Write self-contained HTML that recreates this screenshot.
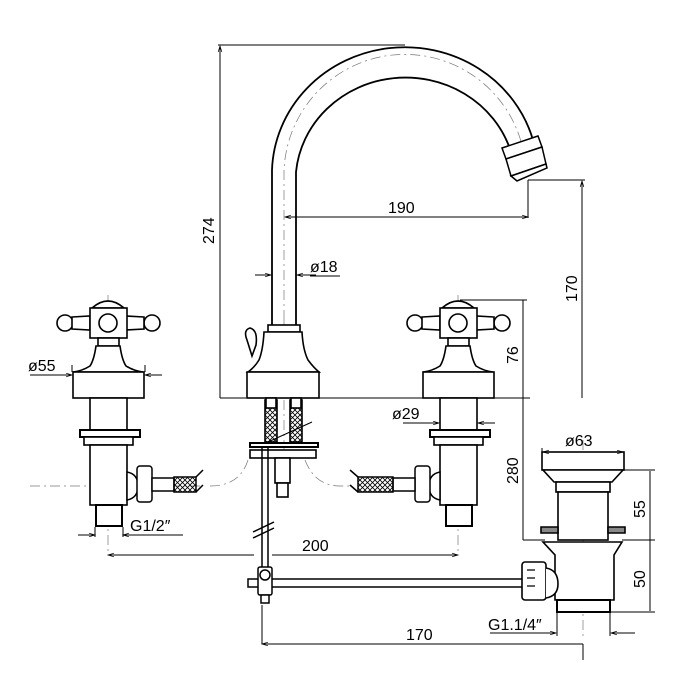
<!DOCTYPE html>
<html><head><meta charset="utf-8"><style>
html,body{margin:0;padding:0;background:#fff;}
svg{display:block;}
text{font-family:"Liberation Sans",sans-serif;font-size:16px;fill:#000;}
</style></head><body>
<svg width="700" height="700" viewBox="0 0 700 700" xmlns="http://www.w3.org/2000/svg">
<defs>
<pattern id="h" width="5" height="5" patternUnits="userSpaceOnUse">
<path d="M0 0L5 5M5 0L0 5" stroke="#000" stroke-width="0.8"/>
</pattern>
<marker id="a" viewBox="0 0 10 10" refX="10" refY="5" markerWidth="10" markerHeight="6" orient="auto-start-reverse" markerUnits="userSpaceOnUse">
<path d="M0 2L10 5L0 8" fill="none" stroke="#000" stroke-width="1.2"/>
</marker>
<g id="tap" fill="#fff" stroke="#000" stroke-width="1.6">
<circle cx="-43" cy="323" r="8"/>
<circle cx="44" cy="323" r="8"/>
<path d="M-36 317 L-18 316 L-18 330 L-36 329Z"/>
<path d="M36 317 L18 316 L18 330 L36 329Z"/>
<path d="M-16 308 Q0 294 16 308Z"/>
<rect x="-18" y="308" width="37" height="30"/>
<circle cx="0" cy="323" r="9"/>
<rect x="-10" y="338" width="21" height="8"/>
<path d="M-12 346 L12 346 Q14 360 18 366 Q26 371 35 372 L-35 372 Q-26 371 -18 366 Q-14 360 -12 346Z"/>
<rect x="-35" y="372" width="71" height="26"/>
<rect x="-18" y="398" width="37" height="32"/>
<rect x="-28" y="430" width="60" height="7" stroke-width="2"/>
<rect x="-24" y="437" width="49" height="8"/>
<rect x="-18" y="445" width="37" height="60"/>
<rect x="-12" y="505" width="26" height="21" stroke-width="2"/>
</g>
</defs>

<g stroke="#777" stroke-width="0.7" stroke-dasharray="10 4 2 4" fill="none">
<line x1="108" y1="295" x2="108" y2="555"/>
<line x1="458" y1="295" x2="458" y2="555"/>
<line x1="583" y1="440" x2="583" y2="640"/>
<line x1="284" y1="320" x2="284" y2="500"/>
<path d="M284 320 L284 170 A121 121 0 0 1 522 145"/>
<path d="M30 486 L200 486 M210 486 Q240 486 248 460 M305 460 Q315 486 340 486 L350 486"/>
</g>

<g fill="none" stroke="#000" stroke-width="1.8">
<path d="M272 325 L272 170 A133 127 0 0 1 533 140"/>
<path d="M296 325 L296 172 A110 104 0 0 1 510 149"/>
</g>
<g fill="#fff" stroke="#000" stroke-width="1.5">
<path d="M502 148 L538 136 L542 147 L506 159Z"/>
<path d="M506 159 L542 147 L546 164 L511 176Z"/>
<path d="M511 176 L546 164 L547 168 L517 181Z"/>
</g>

<g fill="#fff" stroke="#000" stroke-width="1.6">
<rect x="268" y="325" width="32" height="7"/>
<path d="M264 332 L302 332 Q303 350 308 360 Q314 368 319 372 L248 372 Q254 368 259 360 Q263 350 264 332Z"/>
<path d="M247 340 Q243 330 250 328 Q258 330 256 345 L252 356 Z"/>
<rect x="247" y="372" width="72" height="26"/>
<rect x="265" y="400" width="12" height="42" fill="url(#h)"/>
<rect x="290" y="400" width="12" height="42" fill="url(#h)"/>
<rect x="266" y="398" width="10" height="10"/>
<rect x="291" y="398" width="10" height="10"/>
<rect x="250" y="443" width="68" height="4" stroke-width="2"/>
<rect x="250" y="450" width="66" height="8"/>
<rect x="275" y="458" width="15" height="25"/>
<rect x="277" y="483" width="11" height="14"/>
</g>
<line x1="268" y1="442" x2="312" y2="422" stroke="#000" stroke-width="1"/>

<g stroke="#000" stroke-width="1.5" fill="none">
<line x1="262" y1="448" x2="262" y2="568"/>
<line x1="268" y1="448" x2="268" y2="568"/>
<line x1="253" y1="532" x2="274" y2="522"/>
<line x1="253" y1="538" x2="274" y2="528"/>
</g>
<g fill="#fff" stroke="#000" stroke-width="1.5">
<rect x="248" y="579" width="278" height="8"/>
<rect x="258" y="567" width="14" height="28" rx="2"/>
<circle cx="265" cy="575" r="5"/>
<rect x="261" y="595" width="8" height="8"/>
</g>

<use href="#tap" x="108"/>
<use href="#tap" x="458"/>

<g fill="#fff" stroke="#000" stroke-width="1.5">
<path d="M127 472 Q138 474 138 486 Q138 498 127 500Z"/>
<rect x="137" y="466" width="15" height="36" rx="3"/>
<rect x="152" y="478" width="22" height="13"/>
<rect x="174" y="477" width="22" height="15" fill="url(#h)"/>
<path d="M196 477 L203 470 M196 492 L203 485"/>
<path d="M440 472 Q429 474 429 486 Q429 498 440 500Z"/>
<rect x="415" y="466" width="15" height="36" rx="3"/>
<rect x="393" y="478" width="22" height="13"/>
<rect x="358" y="477" width="35" height="15" fill="url(#h)"/>
<path d="M358 477 L350 470 M358 492 L350 485"/>
</g>

<g fill="#fff" stroke="#000" stroke-width="1.6">
<rect x="542" y="452" width="82" height="18"/>
<path d="M543 470 L623 470 L612 482 L554 482Z"/>
<rect x="556" y="482" width="54" height="10"/>
<rect x="558" y="492" width="50" height="48"/>
<path d="M541 527 L558 527 L558 533 L541 533Z" fill="#888"/>
<path d="M608 527 L625 527 L625 533 L608 533Z" fill="#888"/>
<path d="M543 542 L622 542 L614 555 L614 600 L555 600 L555 555Z"/>
<rect x="557" y="600" width="53" height="12" stroke-width="2"/>
<rect x="522" y="562" width="24" height="38" rx="3"/>
<path d="M546 568 Q558 570 558 584 Q558 596 546 598"/>
</g>
<g fill="none" stroke="#000" stroke-width="1.2">
<path d="M527 570h8M527 578h8M527 586h8"/>
</g>

<g stroke="#000" stroke-width="1" fill="none">
<line x1="218" y1="45" x2="405" y2="45"/>
<line x1="220" y1="398" x2="220" y2="46" marker-end="url(#a)"/>
<line x1="220" y1="398" x2="246" y2="398"/>
<line x1="319" y1="398" x2="530" y2="398"/>
<line x1="285" y1="217" x2="528" y2="217" marker-start="url(#a)" marker-end="url(#a)"/>
<line x1="528" y1="180" x2="528" y2="218"/>
<line x1="528" y1="180" x2="585" y2="180"/>
<line x1="582" y1="398" x2="582" y2="181" marker-end="url(#a)"/>
<line x1="255" y1="275" x2="271" y2="275" marker-end="url(#a)"/>
<line x1="316" y1="275" x2="297" y2="275" marker-end="url(#a)"/>
<line x1="310" y1="276" x2="340" y2="276"/>
<line x1="460" y1="300" x2="527" y2="300"/>
<line x1="523" y1="300" x2="523" y2="540" />
<line x1="523" y1="540" x2="545" y2="540"/>
<line x1="403" y1="423" x2="439" y2="423" marker-end="url(#a)"/>
<line x1="495" y1="423" x2="478" y2="423" marker-end="url(#a)"/>
<line x1="30" y1="375" x2="72" y2="375" marker-end="url(#a)"/>
<line x1="162" y1="375" x2="145" y2="375" marker-end="url(#a)"/>
<line x1="72" y1="372" x2="72" y2="365"/>
<line x1="145" y1="372" x2="145" y2="365"/>
<line x1="78" y1="535" x2="95" y2="535" marker-end="url(#a)"/>
<line x1="183" y1="535" x2="123" y2="535" marker-end="url(#a)"/>
<line x1="95" y1="527" x2="95" y2="537"/>
<line x1="123" y1="527" x2="123" y2="537"/>
<line x1="108" y1="555" x2="254" y2="555" marker-start="url(#a)"/>
<line x1="272" y1="555" x2="458" y2="555" marker-end="url(#a)"/>
<line x1="542" y1="452" x2="542" y2="448"/>
<line x1="543" y1="452" x2="623" y2="452" marker-start="url(#a)" marker-end="url(#a)"/>
<line x1="624" y1="470" x2="655" y2="470"/>
<line x1="622" y1="540" x2="655" y2="540"/>
<line x1="610" y1="612" x2="655" y2="612"/>
<line x1="650" y1="471" x2="650" y2="611"/>
<line x1="490" y1="633" x2="556" y2="633" marker-end="url(#a)"/>
<line x1="635" y1="633" x2="611" y2="633" marker-end="url(#a)"/>
<line x1="557" y1="612" x2="557" y2="636"/>
<line x1="610" y1="612" x2="610" y2="636"/>
<line x1="262" y1="605" x2="262" y2="644"/>
<line x1="262" y1="644" x2="583" y2="644" marker-start="url(#a)"/>
<line x1="583" y1="644" x2="583" y2="660"/>
</g>

<text x="0" y="0" transform="translate(214,244) rotate(-90)">274</text>
<text x="388" y="213">190</text>
<text x="0" y="0" transform="translate(577,302) rotate(-90)">170</text>
<text x="310" y="272">ø18</text>
<text x="28" y="371">ø55</text>
<text x="0" y="0" transform="translate(518,364) rotate(-90)">76</text>
<text x="392" y="419">ø29</text>
<text x="0" y="0" transform="translate(518,484) rotate(-90)">280</text>
<text x="130" y="531">G1/2″</text>
<text x="302" y="551">200</text>
<text x="565" y="446">ø63</text>
<text x="0" y="0" transform="translate(645,518) rotate(-90)">55</text>
<text x="0" y="0" transform="translate(645,588) rotate(-90)">50</text>
<text x="488" y="630">G1.1/4″</text>
<text x="406" y="640">170</text>
</svg>
</body></html>
